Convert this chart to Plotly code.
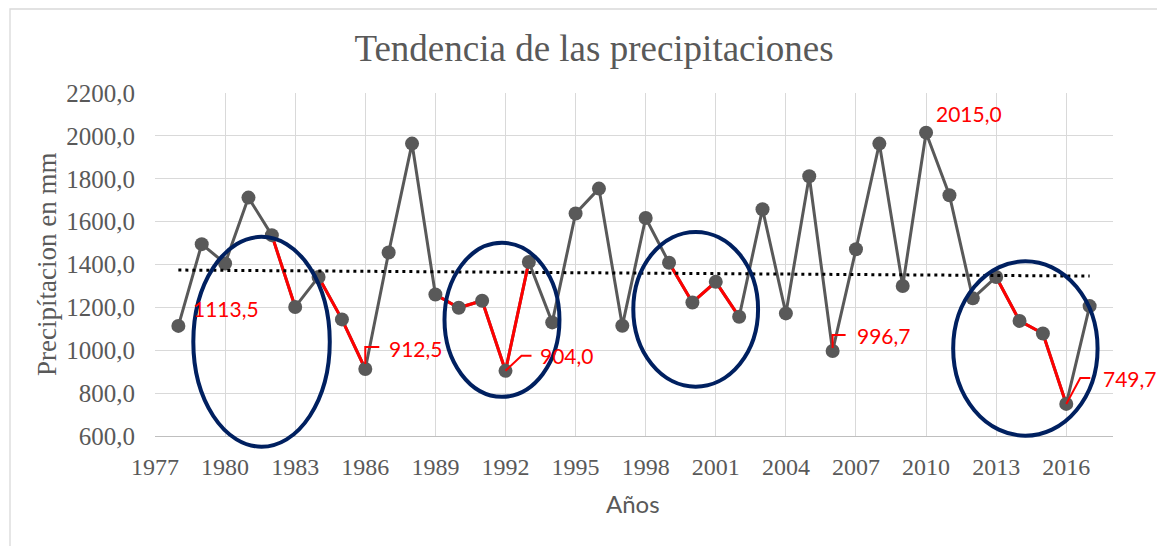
import plotly.graph_objects as go

# ---- data -------------------------------------------------------------
years = list(range(1978, 2018))
precip = [1113.5, 1495, 1405, 1712, 1537, 1202, 1342, 1144, 912.5, 1456,
          1964, 1260, 1198, 1231, 904.0, 1412, 1130, 1638, 1754, 1114,
          1617, 1408, 1223, 1319, 1156, 1658, 1172, 1812, 996.7, 1471,
          1964, 1300, 2015.0, 1723, 1242, 1342, 1137, 1078, 749.7, 1206]

# highlighted (red) runs: (start year, end year)
red_runs = [(1982, 1983), (1984, 1986), (1989, 1993), (1999, 2002), (2013, 2016)]

# trend line (start year, end year) and values
trend_years = [1978, 2017]
trend_values = [1374, 1346]

# labelled points
label_years = [1978, 1986, 1992, 2006, 2010, 2016]

# highlight ellipses (x0, x1, y0, y1) in data units
ellipses = [(1978.64, 1984.48, 550, 1529),
            (1989.39, 1994.31, 783, 1501),
            (1997.47, 2002.81, 830, 1552),
            (2011.16, 2017.34, 601, 1415)]

x_ticks = list(range(1977, 2017, 3))
X_RANGE = [1977, 2018]
Y_RANGE = [600, 2200]

GRAY = "#595959"
RED = "#FF0000"
NAVY = "#002060"
GRID = "#D9D9D9"

# page offset (browser body margin)
OFF = 8
W, H = 1165 - OFF, 546 - OFF
# plot area in screen pixels: x 155..1113, y 93..436
L, R, T, B = 155 - OFF, 1165 - 1113, 93 - OFF, 546 - 436
PW, PH = W - L - R, H - T - B


def px_x(p):
    return (p - OFF - L) / PW


def px_y(p):
    return (H - B - (p - OFF)) / PH


def dx(v):
    return (v - X_RANGE[0]) / (X_RANGE[1] - X_RANGE[0])


def dy(v):
    return (v - Y_RANGE[0]) / (Y_RANGE[1] - Y_RANGE[0])


# ---- figure -----------------------------------------------------------
fig = go.Figure()

fig.add_trace(go.Scatter(x=years, y=precip, mode="lines",
                         line=dict(color=GRAY, width=3), hoverinfo="skip",
                         showlegend=False))

rx, ry = [], []
for a, b in red_runs:
    for yr, v in zip(years, precip):
        if a <= yr <= b:
            rx.append(yr)
            ry.append(v)
    rx.append(None)
    ry.append(None)
fig.add_trace(go.Scatter(x=rx, y=ry, mode="lines",
                         line=dict(color=RED, width=3), hoverinfo="skip",
                         showlegend=False))

fig.add_trace(go.Scatter(x=years, y=precip, mode="markers",
                         marker=dict(color=GRAY, size=14), showlegend=False))

fig.add_trace(go.Scatter(x=trend_years, y=trend_values, mode="lines",
                         line=dict(color="black", width=3, dash="3px,4px"),
                         hoverinfo="skip", showlegend=False))

# ellipses in paper units (not clipped by the plot area)
for (x0, x1, y0, y1) in ellipses:
    fig.add_shape(type="circle", xref="paper", yref="paper",
                  x0=dx(x0), x1=dx(x1), y0=dy(y0), y1=dy(y1),
                  line=dict(color=NAVY, width=4), layer="above")

# data labels
lab_font = dict(family="Lato", size=21, color=RED)
val = dict(zip(years, precip))


def fmt(v):
    return f"{v:.1f}".replace(".", ",")


# (leader path in pixels, xshift, yshift, xanchor)
label_specs = {
    1978: (None, 48, 17, "center"),
    1986: ("M 0 5 L 0 22 L 14 22", 22, 21, "left"),
    1992: ("M 0 0 L 16 15 L 26 15", 33, 15, "left"),
    2006: ("M 0 3 L 0 16 L 13 16", 22, 15, "left"),
    2010: (None, 43, 19, "center"),
    2016: ("M 0 0 L 14 26 L 24 26", 35, 25, "left"),
}
for yr in label_years:
    path, xs, ys, xa = label_specs[yr]
    fig.add_annotation(x=yr, y=val[yr], xref="x", yref="y", text=fmt(val[yr]),
                       showarrow=False, xshift=xs, yshift=ys, xanchor=xa,
                       yanchor="middle", font=lab_font)
    if path:
        fig.add_shape(type="path", xref="x", yref="y", xsizemode="pixel",
                      ysizemode="pixel", xanchor=yr, yanchor=val[yr], path=path,
                      line=dict(color=RED, width=2))

# chart border
fig.add_shape(type="rect", xref="paper", yref="paper",
              x0=px_x(10), x1=px_x(1185), y0=px_y(9), y1=px_y(570),
              line=dict(color=GRID, width=1.3), layer="below")

# axis titles
fig.add_annotation(text="Precipítacion en mm", xref="paper", yref="paper",
                   x=px_x(47), y=px_y(265), textangle=-90, showarrow=False,
                   xanchor="center", yanchor="middle",
                   font=dict(family="Liberation Serif", size=27, color=GRAY))
fig.add_annotation(text="Años", xref="paper", yref="paper",
                   x=px_x(633), y=px_y(503), showarrow=False,
                   xanchor="center", yanchor="middle",
                   font=dict(family="Lato", size=24, color=GRAY))

fig.update_layout(
    width=W, height=H,
    margin=dict(l=L, r=R, t=T, b=B, autoexpand=False),
    paper_bgcolor="white", plot_bgcolor="white",
    separators=",.",
    title=dict(text="Tendencia de las precipitaciones", xref="container",
               yref="container", x=(594 - OFF) / W, y=1 - (48 - OFF) / H,
               xanchor="center", yanchor="middle",
               font=dict(family="Liberation Serif", size=37, color=GRAY)),
    xaxis=dict(range=X_RANGE, tickvals=x_ticks,
               ticktext=[str(t) for t in x_ticks],
               showgrid=True, gridcolor=GRID, gridwidth=1.3,
               showline=True, linecolor="#BFBFBF", linewidth=1.3,
               zeroline=False, ticks="", ticklabelstandoff=9,
               tickfont=dict(family="Liberation Serif", size=24, color=GRAY)),
    yaxis=dict(range=Y_RANGE, dtick=200, tick0=600, tickformat=".1f",
               showgrid=True, gridcolor=GRID, gridwidth=1.3,
               showline=False, zeroline=False, ticks="",
               ticklabelstandoff=19,
               tickfont=dict(family="Liberation Serif", size=25, color=GRAY)),
)

fig.write_html("out.html")
